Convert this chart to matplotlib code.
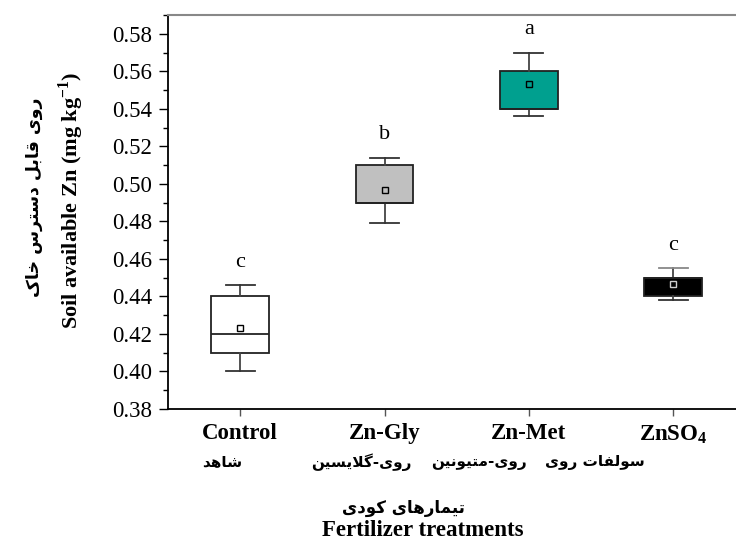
import numpy as np
import matplotlib
matplotlib.use('Agg')
import matplotlib.pyplot as plt

plt.rcParams['font.family'] = ['Liberation Serif', 'DejaVu Sans']
plt.rcParams['mathtext.fontset'] = 'custom'
plt.rcParams['mathtext.rm'] = 'Liberation Serif'
plt.rcParams['mathtext.bf'] = 'Liberation Serif:bold'

# Box statistics per treatment
groups = ['Control', 'Zn-Gly', 'Zn-Met', r'ZnSO$_\mathbf{4}$']
groups_fa = ['شاهد', 'روی-گلایسین', 'روی-متیونین', 'سولفات روی']
q1 = [0.410, 0.490, 0.540, 0.440]
median = [0.420, 0.490, 0.540, 0.450]
q3 = [0.440, 0.510, 0.560, 0.450]
whis_lo = [0.400, 0.479, 0.536, 0.438]
whis_hi = [0.446, 0.514, 0.570, 0.455]
means = [0.423, 0.4965, 0.553, 0.4468]
letters = ['c', 'b', 'a', 'c']
colors = ['white', '#c0c0c0', '#00a08f', 'black']

# Arabic presentation forms: isolated, final, initial, medial
FORMS = {
    'ا': ('\uFE8D', '\uFE8E', None, None),
    'ب': ('\uFE8F', '\uFE90', '\uFE91', '\uFE92'),
    'ت': ('\uFE95', '\uFE96', '\uFE97', '\uFE98'),
    'خ': ('\uFEA5', '\uFEA6', '\uFEA7', '\uFEA8'),
    'د': ('\uFEA9', '\uFEAA', None, None),
    'ر': ('\uFEAD', '\uFEAE', None, None),
    'س': ('\uFEB1', '\uFEB2', '\uFEB3', '\uFEB4'),
    'ش': ('\uFEB5', '\uFEB6', '\uFEB7', '\uFEB8'),
    'ف': ('\uFED1', '\uFED2', '\uFED3', '\uFED4'),
    'ق': ('\uFED5', '\uFED6', '\uFED7', '\uFED8'),
    'ل': ('\uFEDD', '\uFEDE', '\uFEDF', '\uFEE0'),
    'م': ('\uFEE1', '\uFEE2', '\uFEE3', '\uFEE4'),
    'ن': ('\uFEE5', '\uFEE6', '\uFEE7', '\uFEE8'),
    'ه': ('\uFEE9', '\uFEEA', '\uFEEB', '\uFEEC'),
    'و': ('\uFEED', '\uFEEE', None, None),
    '\u06CC': ('\uFBFC', '\uFBFD', '\uFBFE', '\uFBFF'),
    '\u06A9': ('\uFB8E', '\uFB8F', '\uFB90', '\uFB91'),
    'گ': ('\uFB92', '\uFB93', '\uFB94', '\uFB95'),
}


def shape(text):
    # matplotlib has no bidi/shaping, so join letters by hand and reverse
    chars = list(text.replace('\u064A', '\u06CC').replace('\u0643', '\u06A9'))
    n = len(chars)
    out = []
    i = 0
    while i < n:
        c = chars[i]
        if c not in FORMS:
            out.append(c)
            i += 1
            continue
        prev = chars[i - 1] if i > 0 else None
        link_prev = prev in FORMS and FORMS[prev][2] is not None
        if c == 'ل' and i + 1 < n and chars[i + 1] == 'ا':
            out.append('\uFEFC' if link_prev else '\uFEFB')
            i += 2
            continue
        nxt = chars[i + 1] if i + 1 < n else None
        link_next = FORMS[c][2] is not None and nxt in FORMS
        iso, fin, ini, med = FORMS[c]
        if link_prev and link_next:
            out.append(med)
        elif link_prev:
            out.append(fin)
        elif link_next:
            out.append(ini)
        else:
            out.append(iso)
        i += 1
    return ''.join(reversed(out))


fa_font = dict(family='DejaVu Sans', fontweight='bold')

fig = plt.figure(figsize=(7.36, 5.44), dpi=100)
ax = fig.add_axes([168 / 736, 1 - 409 / 544, 1 - 168 / 736, 394 / 544])

pos = np.arange(1, len(groups) + 1)
stats = [dict(med=m, q1=a, q3=b, whislo=lo, whishi=hi, mean=mu)
         for m, a, b, lo, hi, mu in zip(median, q1, q3, whis_lo, whis_hi, means)]
bp = ax.bxp(stats, positions=pos, widths=0.4, capwidths=0.2,
            showmeans=True, showfliers=False, patch_artist=True,
            boxprops=dict(edgecolor='#222222', linewidth=1.3),
            whiskerprops=dict(color='#444444', linewidth=1.3),
            capprops=dict(color='#333333', linewidth=1.3),
            medianprops=dict(color='#222222', linewidth=1.3),
            meanprops=dict(marker='s', markersize=5, markerfacecolor='none',
                           markeredgecolor='black', markeredgewidth=1.0))
for patch, c in zip(bp['boxes'], colors):
    patch.set_facecolor(c)
bp['means'][3].set_markeredgecolor('#cccccc')
bp['caps'][7].set_color('#888888')

for p, hi, lt in zip(pos, whis_hi, letters):
    ax.annotate(lt, xy=(p, hi), xytext=(0, 16.5), textcoords='offset points',
                ha='center', va='center', fontsize=16)

ax.set_xlim(0.5, 4.435)
ax.set_ylim(0.38, 0.59)
ax.set_yticks(np.arange(0.38, 0.5801, 0.02))
ax.set_yticks(np.arange(0.38, 0.5901, 0.01), minor=True)
ax.set_yticklabels(['%.2f' % v for v in np.arange(0.38, 0.5801, 0.02)], fontsize=16.5)
ax.set_xticks(pos)
ax.set_xticklabels(groups, fontsize=16.5, fontweight='bold')
ax.tick_params(axis='y', which='major', direction='out', length=6.5, width=1, pad=5)
ax.tick_params(axis='y', which='minor', direction='out', length=3.6, width=1)
ax.tick_params(axis='x', direction='out', length=5, width=1, color='#555555', pad=5)

ax.spines['right'].set_visible(False)
ax.spines['top'].set_color('#888888')
ax.spines['top'].set_linewidth(1.5)
ax.spines['left'].set_linewidth(1.3)
ax.spines['bottom'].set_linewidth(1.3)

# Persian names below the English tick labels
fa_x = [222, 361, 479, 595]
for x, name in zip(fa_x, groups_fa):
    fig.text(x / 736, 1 - 462 / 544, shape(name), ha='center', va='center',
             fontsize=11, **fa_font)

fig.text(71 / 736, 1 - 200 / 544, r'Soil available Zn (mg kg$^{\mathbf{-1}}$)',
         rotation=90, ha='center', va='center', fontsize=16, fontweight='bold')
fig.text(34 / 736, 1 - 197 / 544, shape('روی قابل دسترس خاک'), rotation=90,
         ha='center', va='center', fontsize=12.5, **fa_font)
fig.text(404 / 736, 1 - 508 / 544, shape('تیمارهای کودی'), ha='center',
         va='center', fontsize=12, **fa_font)
fig.text(423 / 736, 1 - 531 / 544, 'Fertilizer treatments', ha='center',
         va='center', fontsize=16.5, fontweight='bold')

fig.savefig('out.png', dpi=100)
